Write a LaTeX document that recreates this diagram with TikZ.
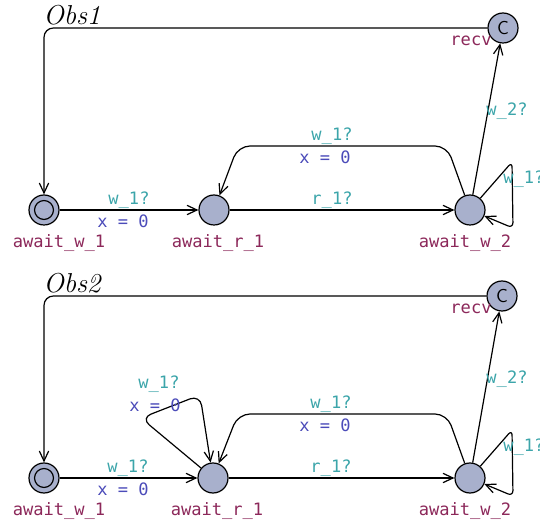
\documentclass[tikz,border=0pt]{standalone}
\usepackage{fontspec}
\setmonofont{DejaVu Sans Mono}
\usetikzlibrary{arrows.meta}

\definecolor{locfill}{RGB}{168,176,204}
\definecolor{namecol}{RGB}{140,40,90}
\definecolor{synccol}{RGB}{60,165,170}
\definecolor{assigncol}{RGB}{75,75,185}

\tikzset{
  loc/.style={circle,draw,fill=locfill,line width=0.9pt,minimum size=22.5pt,inner sep=0pt},
  initloc/.style={loc,path picture={\draw[line width=0.9pt] (path picture bounding box.center) circle[radius=7.1pt];}},
  comloc/.style={loc,font=\fontsize{14}{16}\sffamily},
  edge/.style={draw,line width=0.9pt,-{Straight Barb[length=7.5pt,width=7pt]}},
  lname/.style={text=namecol,font=\fontsize{12.8}{15}\ttfamily,inner sep=0pt},
  lsync/.style={text=synccol,font=\fontsize{12.8}{15}\ttfamily,inner sep=0pt},
  lassign/.style={text=assigncol,font=\fontsize{12.8}{15}\ttfamily,inner sep=0pt},
  ltitle/.style={font=\fontsize{20.5}{24}\selectfont\itshape,anchor=base west,inner sep=0pt}
}

\begin{document}
\begin{tikzpicture}[x=0.75pt,y=0.75pt,yscale=-1,xscale=1]
        \useasboundingbox (0,0) rectangle (540,527);

        % Obs1
        \node[ltitle] (obs1) at (43,25) {Obs1};
        \node[initloc] (w1a) at (44,210) {};
        \node[loc] (r1a) at (214,210) {};
        \node[loc] (w2a) at (470,210) {};
        \node[comloc] (rca) at (503,28) {C};

        \node[lname] (w1aname) at (59,243) {await\_w\_1};
        \node[lname] (r1aname) at (218,243) {await\_r\_1};
        \node[lname] (w2aname) at (465,243) {await\_w\_2};
        \node[lname] (rcaname) at (471,41) {recv};

        \draw[edge,rounded corners=7pt] (rca) -| (w1a);
        \draw[edge] (w1a) -- (r1a);
        \draw[edge] (r1a) -- (w2a);
        \draw[edge,rounded corners=9pt] (w2a) -- (447,146) -- (238,146) -- (r1a);
        \draw[edge] (w2a) -- (rca);
        \draw[edge,rounded corners=4pt] (w2a) -- (512,162) -- (513,228) -- (w2a);

        \node[lsync] (e1async) at (129,200) {w\_1?};
        \node[lassign] (e1aassign) at (123,221) {x = 0};
        \node[lsync] (e2async) at (332,200) {r\_1?};
        \node[lsync] (e3async) at (332,136) {w\_1?};
        \node[lassign] (e3aassign) at (325,157) {x = 0};
        \node[lsync] (e4async) at (507,111) {w\_2?};
        \node[lsync,anchor=west] (e5async) at (503,179) {w\_1?};

        % Obs2
        \node[ltitle] (obs2) at (43,293) {Obs2};
        \node[initloc] (w1b) at (44,478) {};
        \node[loc] (r1b) at (213,478) {};
        \node[loc] (w2b) at (470,478) {};
        \node[comloc] (rcb) at (502,296) {C};

        \node[lname] (w1bname) at (59,511) {await\_w\_1};
        \node[lname] (r1bname) at (217,511) {await\_r\_1};
        \node[lname] (w2bname) at (465,511) {await\_w\_2};
        \node[lname] (rcbname) at (471,309) {recv};

        \draw[edge,rounded corners=7pt] (rcb) -| (w1b);
        \draw[edge] (w1b) -- (r1b);
        \draw[edge,rounded corners=8pt] (r1b) -- (141,418) -- (200,395) -- (r1b);
        \draw[edge] (r1b) -- (w2b);
        \draw[edge,rounded corners=9pt] (w2b) -- (447,414) -- (238,414) -- (r1b);
        \draw[edge] (w2b) -- (rcb);
        \draw[edge,rounded corners=4pt] (w2b) -- (512,430) -- (513,496) -- (w2b);

        \node[lsync] (e0bsync) at (159,384) {w\_1?};
        \node[lassign] (e0bassign) at (155,405) {x = 0};
        \node[lsync] (e1bsync) at (128,468) {w\_1?};
        \node[lassign] (e1bassign) at (123,489) {x = 0};
        \node[lsync] (e2bsync) at (331,468) {r\_1?};
        \node[lsync] (e3bsync) at (331,404) {w\_1?};
        \node[lassign] (e3bassign) at (325,425) {x = 0};
        \node[lsync] (e4bsync) at (507,379) {w\_2?};
        \node[lsync,anchor=west] (e5bsync) at (503,447) {w\_1?};
\end{tikzpicture}
\end{document}
